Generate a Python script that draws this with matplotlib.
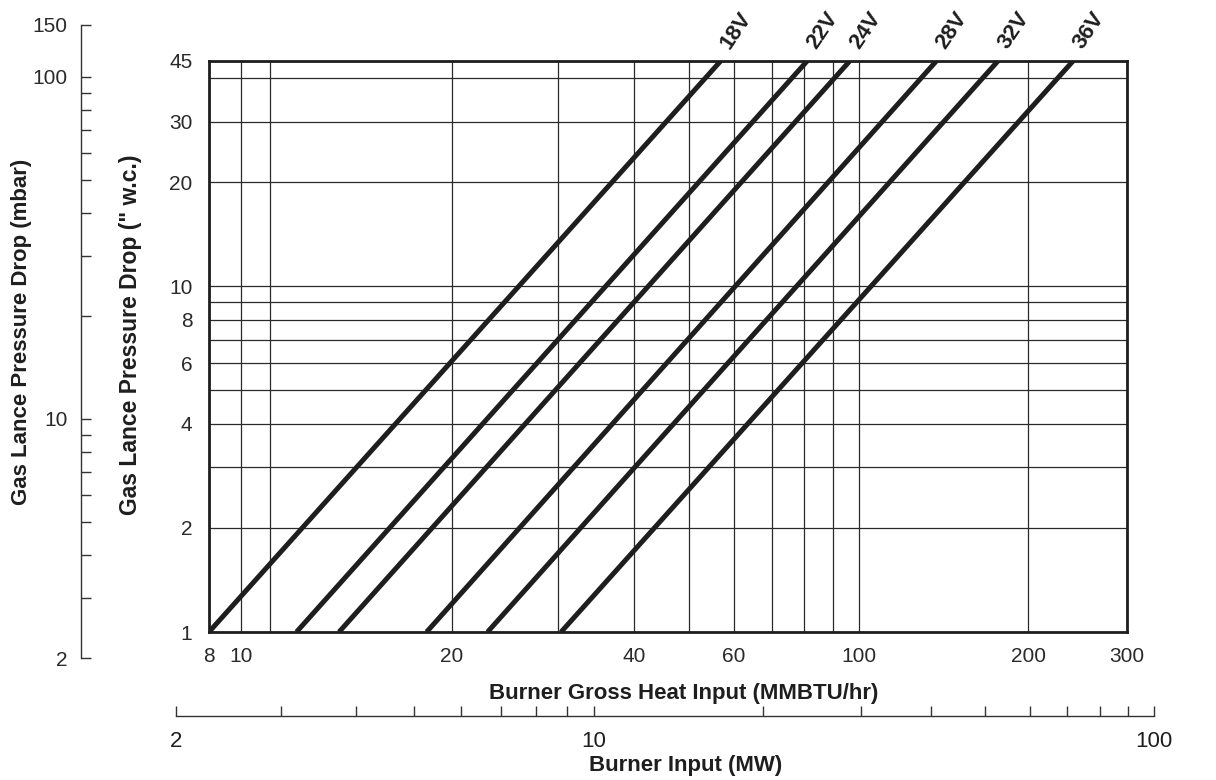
import numpy as np
import matplotlib
matplotlib.use("Agg")
import matplotlib.pyplot as plt

plt.rcParams['font.family'] = ['Liberation Sans', 'DejaVu Sans']

# --- data ---
voltages = ['18V', '22V', '24V', '28V', '32V', '36V']
heat_at_low = [8.0, 12.0, 13.8, 18.4, 22.9, 30.3]       # MMBTU/hr where drop = 1" w.c.
heat_at_high = [56.9, 81.0, 96.4, 137.5, 177.0, 240.8]  # MMBTU/hr where drop = 45" w.c.
drop_low, drop_high = 1, 45

heat_grid = [8, 10, 11, 20, 30, 40, 50, 60, 70, 80, 90, 100, 200, 300]
heat_labels = ['8', '10', '', '20', '', '40', '', '60', '', '', '', '100', '200', '300']
wc_grid = [1, 2, 3, 4, 5, 6, 7, 8, 9, 10, 20, 30, 40, 45]
wc_labels = ['1', '2', '', '4', '', '6', '', '8', '', '10', '20', '30', '', '45']
mw_ticks = [2, 3, 4, 5, 6, 7, 8, 9, 10, 20, 30, 40, 50, 60, 70, 80, 90, 100]
mw_labels = ['2'] + [''] * 7 + ['10'] + [''] * 8 + ['100']
mbar_ticks = [2, 3, 4, 5, 6, 7, 8, 9, 10, 20, 30, 40, 50, 60, 70, 80, 90, 100, 150]
mbar_labels = ['2'] + [''] * 7 + ['10'] + [''] * 8 + ['100', '150']


def knot_scale(values, positions):
    """Piecewise log scale, the printed chart is not a clean log grid."""
    lv = np.log10(np.asarray(values, float))
    pos = np.asarray(positions, float)
    s_lo = (pos[1] - pos[0]) / (lv[1] - lv[0])
    s_hi = (pos[-1] - pos[-2]) / (lv[-1] - lv[-2])

    def fwd(v):
        with np.errstate(divide='ignore', invalid='ignore'):
            x = np.log10(np.asarray(v, float))
        out = np.interp(x, lv, pos)
        out = np.where(x < lv[0], pos[0] + (x - lv[0]) * s_lo, out)
        out = np.where(x > lv[-1], pos[-1] + (x - lv[-1]) * s_hi, out)
        return out

    def inv(p):
        p = np.asarray(p, float)
        x = np.interp(p, pos, lv)
        x = np.where(p < pos[0], lv[0] + (p - pos[0]) / s_lo, x)
        x = np.where(p > pos[-1], lv[-1] + (p - pos[-1]) / s_hi, x)
        return 10 ** x

    return fwd, inv


heat_scale = knot_scale([8, 10, 20, 40, 60, 100, 200, 300],
                        [209, 241, 452, 634, 734, 859, 1028, 1127])
mw_scale = knot_scale([2, 10, 100], [176, 594, 1154])
mbar_scale = knot_scale([2, 100, 150], [122, 703, 755])

W, H = 1216, 780
ink = '#1e1e1e'
fig = plt.figure(figsize=(W / 100, H / 100), dpi=100)

# --- main chart ---
ax = fig.add_axes([209 / W, 1 - 632 / H, 918 / W, 571.3 / H])
ax.set_xscale('function', functions=heat_scale)
ax.set_yscale('log')
ax.set_xlim(8, 300)
ax.set_ylim(drop_low, drop_high)
ax.set_xticks(heat_grid, heat_labels)
ax.set_yticks(wc_grid, wc_labels)
ax.minorticks_off()
ax.tick_params(length=0, labelsize=15, colors='#2a2a2a')
ax.tick_params(axis='x', pad=10.5)
ax.tick_params(axis='y', pad=12)
ax.grid(True, color='#2a2a2a', linewidth=0.9)
for sp in ax.spines.values():
    sp.set_linewidth(2.0)
    sp.set_color(ink)

for name, x0, x1 in zip(voltages, heat_at_low, heat_at_high):
    ax.plot([x0, x1], [drop_low, drop_high], color=ink, linewidth=3.6,
            solid_capstyle='butt')
    ax.annotate(name, xy=(x1, drop_high), xytext=(3, 10), textcoords='offset points',
                rotation=56, rotation_mode='anchor', ha='left', va='center',
                fontsize=16, fontweight='bold', color=ink, annotation_clip=False)

ax.set_xlabel('Burner Gross Heat Input (MMBTU/hr)', fontsize=16, fontweight='bold', color=ink)
ax.xaxis.set_label_coords(684 / W, 1 - 683 / H, transform=fig.transFigure)
ax.set_ylabel('Gas Lance Pressure Drop (" w.c.)', fontsize=16.5, fontweight='bold', color=ink)
ax.yaxis.set_label_coords(142 / W, 1 - 335 / H, transform=fig.transFigure)

# --- MW scale below ---
ax_mw = fig.add_axes([176 / W, 1 - 716 / H, 978 / W, 1e-4])
ax_mw.patch.set_visible(False)
ax_mw.set_xscale('function', functions=mw_scale)
ax_mw.set_xlim(2, 100)
ax_mw.set_xticks(mw_ticks, mw_labels)
ax_mw.minorticks_off()
ax_mw.set_yticks([])
for side in ['top', 'left', 'right']:
    ax_mw.spines[side].set_visible(False)
ax_mw.spines['bottom'].set_color('#333333')
ax_mw.spines['bottom'].set_linewidth(1.0)
ax_mw.tick_params(axis='x', direction='in', length=7, width=1.0, color='#333333',
                  labelsize=16, labelcolor='#1e1e1e', pad=11)
fig.text(686 / W, 1 - 765 / H, 'Burner Input (MW)', fontsize=16, fontweight='bold',
         color=ink, ha='center', va='center')

# --- mbar scale at the left ---
ax_mb = fig.add_axes([81 / W, 1 - 658 / H, 1e-4, 633 / H])
ax_mb.patch.set_visible(False)
ax_mb.set_yscale('function', functions=mbar_scale)
ax_mb.set_ylim(2, 150)
ax_mb.set_yticks(mbar_ticks, mbar_labels)
ax_mb.minorticks_off()
ax_mb.set_xticks([])
for side in ['top', 'bottom', 'right']:
    ax_mb.spines[side].set_visible(False)
ax_mb.spines['left'].set_color('#333333')
ax_mb.spines['left'].set_linewidth(1.0)
ax_mb.tick_params(axis='y', direction='in', length=7, width=1.0, color='#333333',
                  labelsize=15, labelcolor='#2a2a2a', pad=9.5)
fig.text(22 / W, 1 - 332 / H, 'Gas Lance Pressure Drop (mbar)', fontsize=16,
         fontweight='bold', color=ink, ha='center', va='center', rotation=90)

fig.savefig('out.png', dpi=100)
